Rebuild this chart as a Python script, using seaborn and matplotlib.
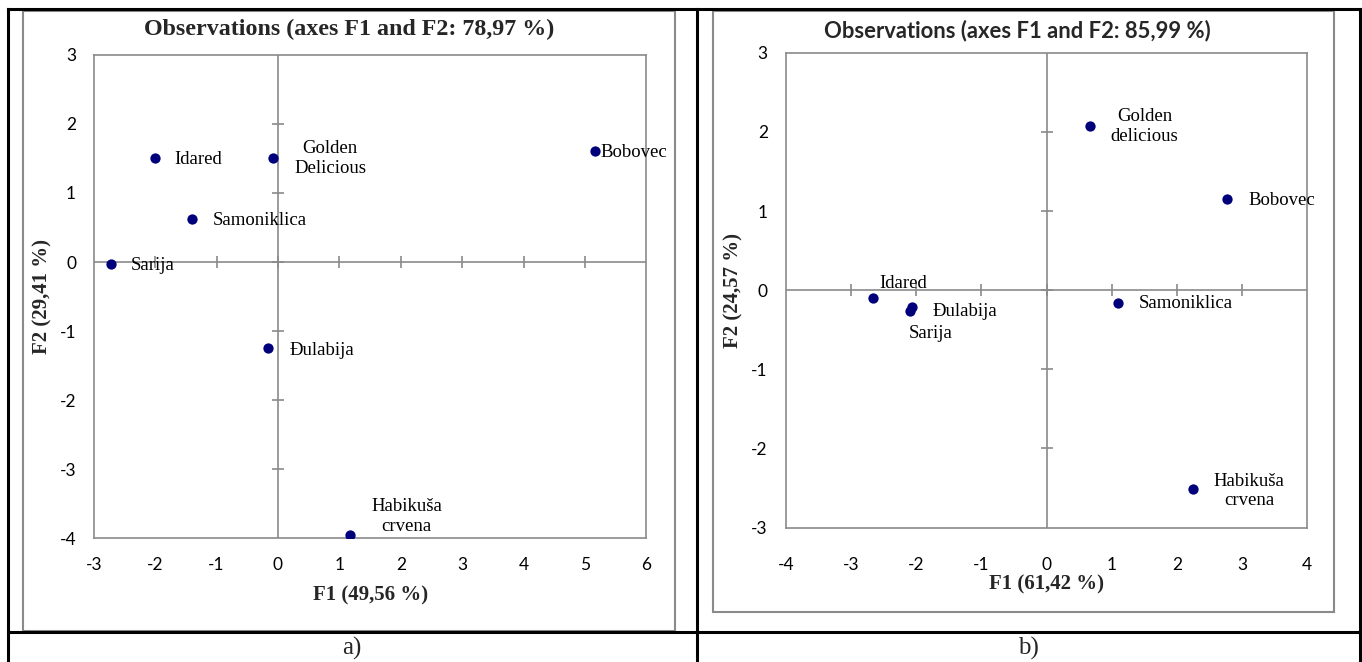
import matplotlib
matplotlib.use("Agg")
import matplotlib.pyplot as plt
import seaborn as sns
import pandas as pd
from matplotlib.patches import Rectangle
from matplotlib.lines import Line2D

# ---------------- data ----------------
names_a = ["Idared", "Golden\nDelicious", "Samoniklica", "Sarija", "Bobovec", "Đulabija", "Habikuša\ncrvena"]
f1_a = [-2.01, -0.08, -1.40, -2.72, 5.16, -0.16, 1.18]
f2_a = [1.51, 1.51, 0.63, -0.03, 1.61, -1.25, -3.95]
xticks_a = [-3, -2, -1, 0, 1, 2, 3, 4, 5, 6]
yticks_a = [-4, -3, -2, -1, 0, 1, 2, 3]
title_a = "Observations (axes F1 and F2: 78,97 %)"
xlabel_a = "F1 (49,56 %)"
ylabel_a = "F2 (29,41 %)"

names_b = ["Idared", "Golden\ndelicious", "Samoniklica", "Sarija", "Bobovec", "Đulabija", "Habikuša\ncrvena"]
f1_b = [-2.66, 0.66, 1.09, -2.09, 2.77, -2.06, 2.24]
f2_b = [-0.10, 2.08, -0.16, -0.26, 1.15, -0.21, -2.51]
xticks_b = [-4, -3, -2, -1, 0, 1, 2, 3, 4]
yticks_b = [-3, -2, -1, 0, 1, 2, 3]
title_b = "Observations (axes F1 and F2: 85,99 %)"
xlabel_b = "F1 (61,42 %)"
ylabel_b = "F2 (24,57 %)"

captions = ["a)", "b)"]

# label offsets in pixels (style only)
offs_a = [(20, -2), (21, -1), (21, -2), (20, -1), (6, -2), (21, -2), (21, 18)]
offs_b = [(6, 15), (21, -1), (21, -1), (-2, -23), (21, -1), (20, -5), (21, -2)]

# ---------------- style ----------------
sns.set_theme(style="white")
plt.rcParams['font.family'] = ['Liberation Serif', 'DejaVu Serif']
plt.rcParams['axes.unicode_minus'] = False

W, H = 1362, 662
fig = plt.figure(figsize=(W / 100, H / 100), dpi=100)
GRAY = "#8a8a8a"
NAVY = "#00007a"


def fx(px):
    return px / W


def fy(py):
    return 1 - py / H


def hline(x0, x1, y, **kw):
    fig.add_artist(Line2D([fx(x0), fx(x1)], [fy(y), fy(y)], transform=fig.transFigure, **kw))


def vline(x, y0, y1, **kw):
    fig.add_artist(Line2D([fx(x), fx(x)], [fy(y0), fy(y1)], transform=fig.transFigure, **kw))


# table borders
blk = dict(color="black", lw=2.2, solid_capstyle="projecting")
hline(7.5, 1359.5, 9, **blk)
hline(7.5, 1359.5, 631.7, **blk)
vline(7.5, 9, 662, **blk)
vline(1359.5, 9, 662, **blk)
vline(696.7, 9, 662, **blk)

# chart frames
for (x0, y0, x1, y1) in [(23, 10.5, 675, 630.5), (712.5, 10.5, 1333.5, 612.3)]:
    fig.add_artist(Rectangle((fx(x0), fy(y1)), fx(x1) - fx(x0), fy(y0) - fy(y1),
                             transform=fig.transFigure, fill=False, edgecolor=GRAY, lw=1.5))


def panel(rect, names, f1, f2, xticks, yticks, offs, title, title_kw, title_pos,
          xlabel, ylabel, xl_pos, yl_pos, xpad, ypad):
    x0, y0, x1, y1 = rect
    ax = fig.add_axes([fx(x0), fy(y1), fx(x1) - fx(x0), fy(y0) - fy(y1)])
    df = pd.DataFrame({"name": names, "F1": f1, "F2": f2})
    ax.set_xlim(xticks[0], xticks[-1])
    ax.set_ylim(yticks[0], yticks[-1])
    ax.set_xticks(xticks)
    ax.set_yticks(yticks)
    ax.set_xticklabels([str(t) for t in xticks])
    ax.set_yticklabels([str(t) for t in yticks])
    ax.tick_params(axis="x", length=0, pad=xpad, labelsize=12.5, labelcolor="black")
    ax.tick_params(axis="y", length=0, pad=ypad, labelsize=12.5, labelcolor="black")
    for lab in ax.get_xticklabels() + ax.get_yticklabels():
        lab.set_fontfamily("Lato")
    for sp in ax.spines.values():
        sp.set_visible(True)
        sp.set_color(GRAY)
        sp.set_linewidth(1.2)
    ax.axhline(0, color=GRAY, lw=1.2, zorder=1)
    ax.axvline(0, color=GRAY, lw=1.2, zorder=1)
    ax.plot(xticks[1:-1], [0] * len(xticks[1:-1]), ls="none", marker="|", ms=8, mew=1.2,
            color=GRAY, zorder=1)
    ax.plot([0] * len(yticks[1:-1]), yticks[1:-1], ls="none", marker="_", ms=8, mew=1.2,
            color=GRAY, zorder=1)
    sns.scatterplot(data=df, x="F1", y="F2", ax=ax, color=NAVY, s=55, linewidth=0,
                    zorder=5, legend=False)
    for n, a, b, (dx, dy) in zip(df["name"], df["F1"], df["F2"], offs):
        ax.annotate(n, (a, b), xytext=(dx, dy), textcoords="offset pixels",
                    ha="left", va="center", ma="center", fontsize=13.5,
                    family=["Liberation Serif", "DejaVu Serif"], color="black", zorder=6)
    ax.set_xlabel(xlabel, fontsize=15, fontweight="bold", va="center")
    ax.set_ylabel(ylabel, fontsize=15, fontweight="bold", va="center")
    ax.xaxis.set_label_coords(*xl_pos)
    ax.yaxis.set_label_coords(*yl_pos)
    ax.text(title_pos[0], title_pos[1], title, transform=ax.transAxes, ha="center",
            va="center", **title_kw)
    return ax


panel((93.75, 54.9, 646.4, 538.2), names_a, f1_a, f2_a, xticks_a, yticks_a, offs_a,
      title_a, dict(fontsize=17.3, fontweight="bold", family=["Liberation Serif", "DejaVu Serif"]),
      (0.462, 1.052), xlabel_a, ylabel_a, (0.5, -0.1175), (-0.0936, 0.5), 13.5, 12.7)

panel((785.8, 52.8, 1307.3, 527.6), names_b, f1_b, f2_b, xticks_b, yticks_b, offs_b,
      title_b, dict(fontsize=15.8, fontweight="bold", family=["Lato", "DejaVu Sans"]),
      (0.445, 1.047), xlabel_b, ylabel_b, (0.5, -0.120), (-0.0997, 0.5), 21.4, 13)

fig.text(fx(352.0), fy(655), captions[0], ha="center", va="baseline", fontsize=18)
fig.text(fx(1028.8), fy(655), captions[1], ha="center", va="baseline", fontsize=18)

fig.savefig("out.png", dpi=100)
